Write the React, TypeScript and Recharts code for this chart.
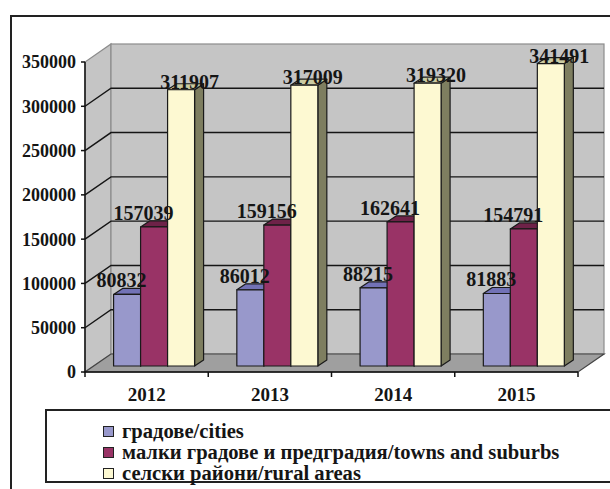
import React from "react";
import { BarChart, Bar, XAxis, YAxis, ReferenceArea, LabelList, Legend } from "recharts";

const years = ["2012", "2013", "2014", "2015"];
const cities = [80832, 86012, 88215, 81883];
const towns = [157039, 159156, 162641, 154791];
const rural = [311907, 317009, 319320, 341491];
const yTicks = [0, 50000, 100000, 150000, 200000, 250000, 300000, 350000];
const seriesNames = [
  "градове/cities",
  "малки градове и предградия/towns and suburbs",
  "селски райони/rural areas",
];

const data = years.map((year, i) => ({
  year,
  cities: cities[i],
  towns: towns[i],
  rural: rural[i],
}));

const FONT = '"Liberation Serif", "Times New Roman", serif';
const W = 610;
const H = 489;
const Y_MAX = 350000;

// depth of the walls / floor
const DX = 26;
const DY = 18;
// columns stand a little behind the front edge of the floor
const OX = 8;
const OY = 6;
// depth of each column
const BDX = 9;
const BDY = 6;

const faces: Record<string, { front: string; top: string; side: string }> = {
  cities: { front: "#9898CB", top: "#7272B6", side: "#5C5C94" },
  towns: { front: "#993366", top: "#6E2248", side: "#5A1A3A" },
  rural: { front: "#FDF9D2", top: "#CBCBA2", side: "#7E7E60" },
};

const makeBar = (c: { front: string; top: string; side: string }) => (props: any) => {
  const { x, y, width, height } = props;
  if (!width || height == null) return <g />;
  const x0 = x + OX;
  const y0 = y - OY;
  const r = x0 + width;
  const b = y0 + height;
  return (
    <g stroke="#1a1a1a" strokeWidth={1.2} strokeLinejoin="round">
      <polygon points={`${r},${y0} ${r + BDX},${y0 - BDY} ${r + BDX},${b - BDY} ${r},${b}`} fill={c.side} />
      <polygon points={`${x0},${y0} ${x0 + BDX},${y0 - BDY} ${r + BDX},${y0 - BDY} ${r},${y0}`} fill={c.top} />
      <rect x={x0} y={y0} width={width} height={height} fill={c.front} />
    </g>
  );
};

const makeLabel = (dx: number, dy: number) => (props: any) => {
  const vb = props.viewBox && props.viewBox.width != null ? props.viewBox : props;
  const { x, y, width } = vb;
  return (
    <text
      x={x + width / 2 + OX + BDX / 2 + dx}
      y={y - OY + dy}
      textAnchor="middle"
      fontFamily={FONT}
      fontWeight="bold"
      fontSize={20}
      fill="#151515"
    >
      {props.value}
    </text>
  );
};

const Walls = (props: any) => {
  const { x, y, width, height } = props;
  const b = y + height;
  const yAt = (v: number) => y + height * (1 - v / Y_MAX);
  const n = years.length;
  return (
    <g>
      <polygon
        points={`${x},${b} ${x},${y} ${x + DX},${y - DY} ${x + DX},${b - DY}`}
        fill="#C5C5C5"
        stroke="#8c8c8c"
        strokeWidth={1.2}
      />
      <rect x={x + DX} y={y - DY} width={width} height={height} fill="#C5C5C5" stroke="#8c8c8c" strokeWidth={1.2} />
      <polygon
        points={`${x},${b} ${x + width},${b} ${x + width + DX},${b - DY} ${x + DX},${b - DY}`}
        fill="#9F9F9F"
        stroke="#444"
        strokeWidth={1.2}
      />
      {yTicks
        .filter((v) => v > 0 && v < Y_MAX)
        .map((v) => {
          const yy = yAt(v);
          return (
            <polyline
              key={v}
              points={`${x},${yy} ${x + DX},${yy - DY} ${x + width + DX},${yy - DY}`}
              fill="none"
              stroke="#151515"
              strokeWidth={1.4}
            />
          );
        })}
      {Array.from({ length: n + 1 }, (_, i) => (
        <line key={i} x1={x + (i * width) / n} y1={b} x2={x + (i * width) / n} y2={b + 5} stroke="#111" strokeWidth={1.5} />
      ))}
    </g>
  );
};

const XTick = (props: any) => {
  const { x, y, payload } = props;
  return (
    <text x={x} y={y + 27} textAnchor="middle" fontFamily={FONT} fontWeight="bold" fontSize={19} fill="#151515">
      {payload.value}
    </text>
  );
};

const LegendBox = (props: any) => {
  const payload = props.payload || [];
  return (
    <div
      style={{
        boxSizing: "border-box",
        width: "100%",
        height: "100%",
        border: "2px solid #222",
        paddingTop: 10,
        paddingLeft: 56,
        fontFamily: FONT,
        fontWeight: "bold",
        fontSize: 20.6,
        lineHeight: "21px",
        color: "#151515",
      }}
    >
      {payload.map((entry: any, i: number) => (
        <div key={i} style={{ display: "flex", alignItems: "center", whiteSpace: "nowrap", height: 21 }}>
          <span
            style={{
              display: "inline-block",
              width: 11,
              height: 11,
              boxSizing: "border-box",
              border: "1.5px solid #222",
              background: entry.color,
              marginRight: 8,
            }}
          />
          <span>{entry.value}</span>
        </div>
      ))}
    </div>
  );
};

export default function App() {
  return (
    <div style={{ position: "absolute", left: 0, top: 0, width: W, height: H, overflow: "hidden", background: "#fff" }}>
      <div
        style={{ position: "absolute", left: 10, top: 15, width: 640, height: 520, border: "2px solid #222" }}
      />
      <div style={{ position: "absolute", left: 0, top: 0 }}>
        <BarChart
          width={W}
          height={H}
          data={data}
          margin={{ top: 62, right: 32, bottom: 87, left: 10 }}
          barCategoryGap="16.7%"
          barGap={0}
        >
          <ReferenceArea y1={0} y2={Y_MAX} ifOverflow="visible" shape={(p: any) => <Walls {...p} />} zIndex={-10} />
          <XAxis
            dataKey="year"
            height={30}
            interval={0}
            tickLine={false}
            tickSize={0}
            axisLine={{ stroke: "#111", strokeWidth: 1.5 }}
            tick={(p: any) => <XTick {...p} />}
          />
          <YAxis
            domain={[0, Y_MAX]}
            ticks={yTicks}
            interval={0}
            width={75}
            tickSize={4}
            tickMargin={5}
            axisLine={{ stroke: "#111", strokeWidth: 1.5 }}
            tickLine={{ stroke: "#111", strokeWidth: 1.5 }}
            tick={{ fontFamily: FONT, fontSize: 18, fontWeight: "bold", fill: "#151515" }}
          />
          <Bar dataKey="cities" name={seriesNames[0]} fill={faces.cities.front} shape={makeBar(faces.cities)} isAnimationActive={false}>
            <LabelList dataKey="cities" content={makeLabel(-10, -7)} />
          </Bar>
          <Bar dataKey="towns" name={seriesNames[1]} fill={faces.towns.front} shape={makeBar(faces.towns)} isAnimationActive={false}>
            <LabelList dataKey="towns" content={makeLabel(-15, -7)} />
          </Bar>
          <Bar dataKey="rural" name={seriesNames[2]} fill={faces.rural.front} shape={makeBar(faces.rural)} isAnimationActive={false}>
            <LabelList dataKey="rural" content={makeLabel(4, -1)} />
          </Bar>
          <Legend
            layout="vertical"
            align="center"
            verticalAlign="middle"
            wrapperStyle={{ left: 45, top: 409, width: 590, height: 74 }}
            content={(p: any) => <LegendBox {...p} />}
          />
        </BarChart>
      </div>
    </div>
  );
}
